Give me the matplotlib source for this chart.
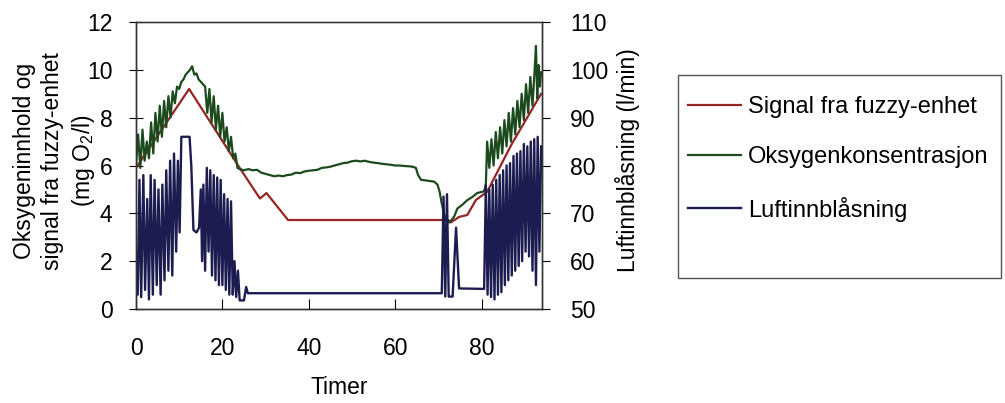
import matplotlib
matplotlib.use('Agg')
import matplotlib.pyplot as plt
from matplotlib.patches import Rectangle

plt.rcParams['font.family'] = ['Liberation Sans', 'DejaVu Sans']
plt.rcParams['mathtext.default'] = 'regular'

# Signal fra fuzzy-enhet (mg O2/l)
time_fuzzy = [0, 12.3, 24.0, 28.7, 29.4, 30.2, 35.2, 72.3, 72.9, 74.8, 76.7, 78.7, 81.3, 87.0, 93.8]
fuzzy_signal = [5.9, 9.2, 5.9, 4.62, 4.72, 4.85, 3.72, 3.72, 3.62, 3.85, 3.93, 4.56, 4.9, 6.9, 9.0]

# Oksygenkonsentrasjon (mg O2/l)
time_oxygen = [0, 0.5, 1, 1.5, 2, 2.5, 3, 3.5, 4, 4.5, 5, 5.5, 6, 6.5, 7, 7.5, 8, 8.5, 9, 9.5,
               10, 10.5, 11, 11.5, 12, 12.5, 13, 13.5, 14, 14.5, 15, 15.5, 16, 16.5, 17, 17.5,
               18, 18.5, 19, 19.5, 20, 20.5, 21, 21.5, 22, 22.5, 23, 23.5, 24,
               25, 26, 27, 28, 29, 30, 31, 32, 33, 34, 35, 36, 37, 38, 39, 40, 41, 42, 43, 44,
               45, 46, 47, 48, 49, 50, 51, 52, 53, 54, 55, 56, 57, 58, 59, 60, 61, 62, 63, 64,
               64.8, 65.3, 66, 67, 68, 69, 69.8, 70.3, 70.8, 71.3, 71.8, 72.5, 73.2, 73.7, 74.4,
               75.5, 76.7, 78, 79, 80.6, 81.0,
               81.3, 81.8, 82.3, 82.8, 83.3, 83.8, 84.3, 84.8, 85.3, 85.8, 86.3, 86.8, 87.3, 87.8,
               88.3, 88.8, 89.3, 89.8, 90.3, 90.8, 91.3, 91.8, 92.3, 92.6, 92.9, 93.2, 93.5, 93.8]
oxygen = [6.0, 7.3, 5.9, 7.5, 6.2, 7.0, 6.3, 7.8, 6.5, 8.2, 7.0, 8.5, 7.2, 8.7, 7.6, 8.9, 8.0, 9.1, 8.6, 9.3,
          9.2, 9.5, 9.6, 9.8, 9.9, 10.0, 10.15, 9.8, 9.85, 9.6, 9.5, 9.4, 9.3, 8.2, 9.2, 7.8,
          8.9, 7.5, 8.5, 7.2, 8.2, 7.0, 7.6, 6.6, 7.2, 6.3, 6.5, 5.9, 5.85,
          5.8, 5.85, 5.8, 5.82, 5.7, 5.65, 5.6, 5.55, 5.58, 5.55, 5.6, 5.62, 5.7, 5.68, 5.75, 5.78, 5.8, 5.82, 5.9, 5.92,
          5.95, 6.0, 6.05, 6.1, 6.12, 6.18, 6.2, 6.17, 6.2, 6.15, 6.12, 6.1, 6.07, 6.05, 6.03, 6.0, 6.0, 5.98, 5.97, 5.95,
          5.9, 5.6, 5.4, 5.38, 5.35, 5.33, 5.2, 4.9, 4.4, 4.0, 3.7, 3.62, 3.75, 3.88, 4.2,
          4.35, 4.55, 4.7, 4.85, 4.92, 5.2,
          7.0, 5.9, 7.1, 6.0, 7.4, 6.3, 7.6, 6.5, 7.9, 6.8, 8.2, 7.0, 8.4, 7.3,
          8.7, 7.6, 9.0, 7.9, 9.4, 8.2, 9.7, 8.5, 10.0, 11.0, 8.8, 10.2, 9.3, 9.9]

# Luftinnblåsning (l/min)
time_air = [0, 0.4, 0.8, 1.2, 1.7, 2.1, 2.6, 3.0, 3.4, 3.9, 4.3, 4.8, 5.2, 5.7, 6.1, 6.6, 7.0, 7.5,
            7.9, 8.4, 8.8, 9.3, 9.7, 10.1, 10.5, 12.4, 12.8, 13.3, 14.0, 14.6, 15.0, 15.3, 15.6,
            16.0, 16.4, 16.8, 17.2, 17.6, 18.0, 18.4, 18.8, 19.2, 19.6, 20.0, 20.4, 20.8, 21.2,
            21.6, 22.0, 22.4, 22.8, 23.2, 23.6, 24.0, 25.0, 25.5, 25.9,
            70.8, 71.2, 71.6, 72.0, 72.4, 72.8, 73.3, 74.1, 74.8, 80.6,
            81.0, 81.4, 81.8, 82.2, 82.6, 83.0, 83.4, 83.8, 84.2, 84.6, 85.0, 85.4, 85.8, 86.2,
            86.6, 87.0, 87.4, 87.8, 88.2, 88.6, 89.0, 89.4, 89.8, 90.2, 90.6, 91.0, 91.4, 91.8,
            92.2, 92.6, 93.0, 93.4, 93.8]
air = [62, 53, 77, 52.5, 78, 54, 73, 52, 78, 53, 77, 55, 75, 53, 76, 56, 79, 58,
       81, 57, 82.5, 62, 81, 66, 86, 86, 80, 66.5, 66, 67, 75, 60, 76,
       58, 79.5, 62, 79, 57, 78, 56, 77.5, 55, 77, 55, 74, 54, 73,
       53, 72.5, 53, 60, 52.5, 58, 51.8, 51.8, 54.6, 53.3,
       53.3, 73.5, 52.6, 74, 52.6, 52.6, 52.6, 67, 54.3, 54.2,
       76, 53, 75, 52.5, 76, 52, 77, 53, 78, 53.5, 79, 55, 80, 56,
       80.5, 57, 82, 58, 82.5, 59, 83, 60, 84.5, 62, 84, 61, 85, 58,
       85.5, 55, 86, 62, 84]

red = '#962626'
green = '#1d4a1d'
blue = '#1c1c50'

fig = plt.figure(figsize=(10.05, 4.03), dpi=100)
ax = fig.add_axes([136 / 1005, 1 - 309 / 403, (542 - 136) / 1005, 287 / 403])
ax2 = ax.twinx()

l1, = ax.plot(time_fuzzy, fuzzy_signal, color=red, lw=1.6, label='Signal fra fuzzy-enhet')
l2, = ax.plot(time_oxygen, oxygen, color=green, lw=1.6, label='Oksygenkonsentrasjon')
l3, = ax2.plot(time_air, air, color=blue, lw=1.7, label='Luftinnblåsning')

ax.set_xlim(0, 94)
ax.set_ylim(0, 12)
ax2.set_ylim(50, 110)
ax.set_xticks([0, 20, 40, 60, 80])
ax.set_yticks(range(0, 13, 2))
ax2.set_yticks(range(50, 111, 10))

ax.tick_params(axis='x', direction='in', length=7, labelsize=16.5, pad=20)
ax.tick_params(axis='y', direction='inout', length=10, labelsize=16.5, pad=12)
ax2.tick_params(axis='y', direction='out', length=6, labelsize=16.5, pad=14)
for a in (ax, ax2):
    for s in a.spines.values():
        s.set_color('#333333')
        s.set_linewidth(1.0)
ax.spines['top'].set_color('#888888')

ax.set_xlabel('Timer', fontsize=16.5, labelpad=12)
fig.text(55 / 1005, 1 - 161 / 403, 'Oksygeninnhold og\nsignal fra fuzzy-enhet\n(mg O$_2$/l)',
         rotation=90, ha='center', va='center', ma='center', fontsize=16.5, linespacing=1.3)
fig.text(628 / 1005, 1 - 160 / 403, 'Luftinnblåsning (l/min)', rotation=90,
         ha='center', va='center', fontsize=16.5)

fig.patches.append(Rectangle((678 / 1005, 1 - 278 / 403), (1001 - 678) / 1005, (278 - 75) / 403,
                             transform=fig.transFigure, fill=False, edgecolor='#555555', lw=1.0))
fig.legend(handles=[l1, l2, l3], loc='upper left', bbox_to_anchor=(688 / 1005, 1 - 96 / 403),
           frameon=False, fontsize=17, handlelength=2.25, handletextpad=0.3,
           labelspacing=1.2, borderaxespad=0, borderpad=0)

fig.savefig('out.png', dpi=100)
